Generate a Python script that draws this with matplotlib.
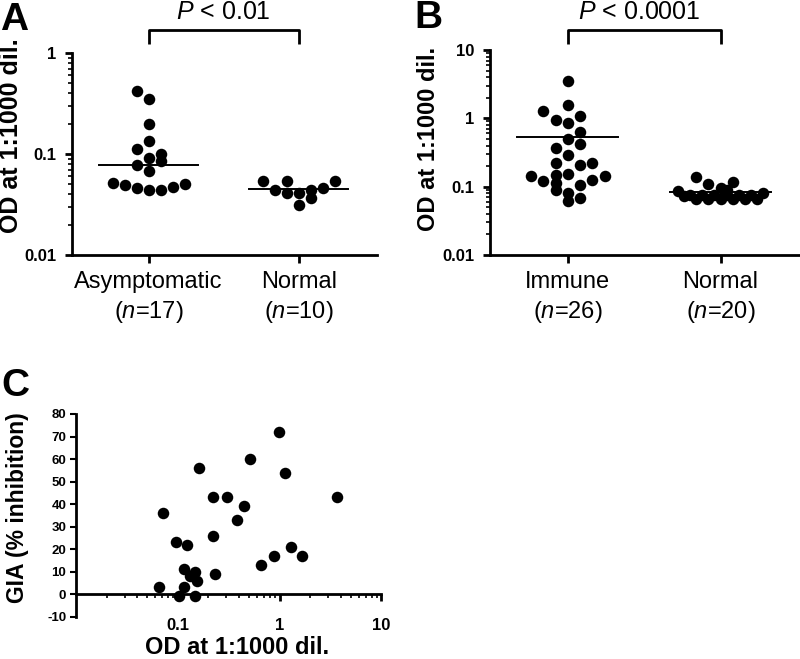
import numpy as np
import matplotlib.pyplot as plt
from matplotlib.transforms import blended_transform_factory
from matplotlib.ticker import LogLocator, NullFormatter

plt.rcParams['font.family'] = ['Liberation Sans', 'DejaVu Sans']
plt.rcParams['mathtext.fontset'] = 'custom'
plt.rcParams['mathtext.rm'] = 'Liberation Sans'
plt.rcParams['mathtext.it'] = 'Liberation Sans:italic'
plt.rcParams['mathtext.bf'] = 'Liberation Sans:bold'

# ---- panel A data ----
a_groups = ['Asymptomatic', 'Normal']
a_counts = [17, 10]
a_asym = [0.42, 0.353, 0.197, 0.135, 0.113, 0.100, 0.0906, 0.086, 0.078, 0.068,
          0.0513, 0.049, 0.046, 0.044, 0.044, 0.047, 0.050]
a_norm = [0.0544, 0.0544, 0.0544, 0.044, 0.0408, 0.0408, 0.044, 0.0457, 0.0367, 0.031]
a_center = [0.078, 0.045]
a_ptext = '$\\it{P}$ < 0.01'

# ---- panel B data ----
b_groups = ['Immune', 'Normal']
b_counts = [26, 20]
b_immune = [3.48, 1.58, 1.27, 1.09, 0.956, 0.845, 0.638, 0.504, 0.421, 0.368,
            0.294, 0.219, 0.222, 0.21, 0.155, 0.15, 0.143, 0.143, 0.12, 0.112,
            0.125, 0.107, 0.0904, 0.0798, 0.0675, 0.061]
b_norm = [0.14, 0.108, 0.0967, 0.118, 0.089,
          0.0865, 0.072, 0.0756, 0.066, 0.0756, 0.066, 0.0756, 0.066,
          0.0756, 0.066, 0.0756, 0.066, 0.0756, 0.066, 0.081]
b_center = [0.527, 0.0826]
b_ptext = '$\\it{P}$ < 0.0001'

# ---- panel C data ----
c_od = [0.0657, 0.0719, 0.0955, 0.103, 0.116, 0.116, 0.124, 0.133, 0.149, 0.149,
        0.156, 0.163, 0.221, 0.221, 0.232, 0.306, 0.38, 0.442, 0.509, 0.652,
        0.874, 0.977, 1.14, 1.3, 1.65, 3.63]
c_gia = [3, 36, 23, -1, 11, 3, 22, 8, 10, -1, 6, 56, 43, 26, 9, 43, 33, 39, 60, 13,
         17, 72, 54, 21, 17, 43]

# swarm layout: column offsets in half-dot steps
a_asym_slot = [-2, 0, 0, 0, -2, 2, 0, 2, -2, 0, -6, -4, -2, 0, 2, 4, 6]
a_norm_slot = [-6, -2, 6, -4, -2, 0, 2, 4, 2, 0]
b_immune_slot = [0, 0, -4, 2, -2, 0, 2, 0, 2, -2, 0, -2, 4, 2, 0, -2, -6, 6, -4, -2,
                 4, 2, -2, 0, 2, 0]
b_norm_slot = [-4, -2, 0, 2, 1, -7, -6, -5, -4, -3, -2, -1, 0, 1, 2, 3, 4, 5, 6, 7]
half_step = 0.04

W, H = 800, 659


def fx(px):
    return px / W


def fy(py):
    return 1 - py / H


def dot_panel(ax, groups, counts, series, slots, centers, ptext, ylim, yticks,
              ylabels, ax_top_px, ax_bot_px, ptext_x):
    for i, (vals, sl) in enumerate(zip(series, slots)):
        xs = i + half_step * np.array(sl)
        ax.plot(xs, vals, 'o', color='black', ms=8.3, mew=0, clip_on=False, zorder=3)
        ax.plot([i - 0.33, i + 0.33], [centers[i], centers[i]], color='black',
                lw=1.4, zorder=4)
    ax.set_yscale('log')
    ax.set_ylim(*ylim)
    ax.set_xlim(-0.51, 1.52)
    for s in ['top', 'right']:
        ax.spines[s].set_visible(False)
    for s in ['left', 'bottom']:
        ax.spines[s].set_linewidth(2)
    ax.set_yticks(yticks)
    ax.set_yticklabels(ylabels, fontweight='bold', fontsize=12)
    ax.yaxis.set_minor_locator(LogLocator(base=10, subs=np.arange(2, 10)))
    ax.yaxis.set_minor_formatter(NullFormatter())
    ax.tick_params(axis='y', which='major', length=5, width=2, pad=6)
    ax.tick_params(axis='y', which='minor', length=3, width=1.2)
    ax.set_xticks([0, 1])
    ax.set_xticklabels(['', ''])
    ax.tick_params(axis='x', length=6, width=2)

    h = ax_bot_px - ax_top_px
    tr = blended_transform_factory(ax.transData, ax.transAxes)
    for i, (g, n) in enumerate(zip(groups, counts)):
        ax.text(i, (ax_bot_px - 288) / h, g, transform=tr, ha='center',
                va='baseline', fontsize=17)
        ax.text(i, (ax_bot_px - 318) / h, '($\\it{n}$=%d)' % n, transform=tr,
                ha='center', va='baseline', fontsize=17)
    y_bar = (ax_bot_px - 30) / h
    y_leg = (ax_bot_px - 44) / h
    ax.plot([0, 0, 1, 1], [y_leg, y_bar, y_bar, y_leg], color='black', lw=2,
            transform=tr, clip_on=False, solid_capstyle='butt')
    ax.text(ptext_x, (ax_bot_px - 19.3) / h, ptext, transform=tr, ha='center',
            va='baseline', fontsize=18)


fig = plt.figure(figsize=(8, 6.59), dpi=100)

axA = fig.add_axes([fx(72), fy(255), fx(377) - fx(72), fy(53) - fy(255)])
dot_panel(axA, a_groups, a_counts, [a_asym, a_norm], [a_asym_slot, a_norm_slot],
          a_center, a_ptext, (0.01, 1), [0.01, 0.1, 1], ['0.01', '0.1', '1'],
          53, 255, 0.5)

axB = fig.add_axes([fx(490), fy(255), fx(800) - fx(490), fy(50) - fy(255)])
dot_panel(axB, b_groups, b_counts, [b_immune, b_norm], [b_immune_slot, b_norm_slot],
          b_center, b_ptext, (0.01, 10), [0.01, 0.1, 1, 10],
          ['0.01', '0.1', '1', '10'], 50, 255, 0.47)

# panel C
axC = fig.add_axes([fx(76), fy(616.7), fx(381.5) - fx(76), fy(414) - fy(616.7)])
axC.plot(c_od, c_gia, 'o', color='black', ms=8.3, mew=0, clip_on=False, zorder=3)
axC.set_xscale('log')
axC.set_xlim(0.01, 10)
axC.set_ylim(-10, 80)
axC.spines['top'].set_visible(False)
axC.spines['right'].set_visible(False)
axC.spines['bottom'].set_position(('data', 0))
axC.spines['bottom'].set_linewidth(2)
axC.spines['left'].set_linewidth(2)
axC.set_xticks([0.1, 1, 10])
axC.set_xticklabels(['0.1', '1', '10'], fontweight='bold', fontsize=12)
axC.xaxis.set_minor_locator(LogLocator(base=10, subs=np.arange(2, 10)))
axC.xaxis.set_minor_formatter(NullFormatter())
axC.tick_params(axis='x', which='major', length=5, width=2, pad=12)
axC.tick_params(axis='x', which='minor', length=3, width=1.2)
axC.set_yticks(np.arange(-10, 81, 10))
axC.set_yticklabels([str(v) for v in range(-10, 81, 10)], fontweight='bold',
                    fontsize=9.5)
axC.tick_params(axis='y', length=4, width=1.5, pad=3)

# axis titles
fig.text(fx(18.5), fy(136), 'OD at 1:1000 dil.', rotation=90, rotation_mode='anchor',
         ha='center', va='baseline', fontsize=18, fontweight='bold')
fig.text(fx(435), fy(139), 'OD at 1:1000 dil.', rotation=90, rotation_mode='anchor',
         ha='center', va='baseline', fontsize=17, fontweight='bold')
fig.text(fx(24), fy(508), 'GIA (% inhibition)', rotation=90, rotation_mode='anchor',
         ha='center', va='baseline', fontsize=16.5, fontweight='bold')
fig.text(fx(236.7), fy(654), 'OD at 1:1000 dil.', ha='center', va='baseline',
         fontsize=17, fontweight='bold')

# panel letters
fig.text(fx(0), fy(30), 'A', ha='left', va='baseline', fontsize=28, fontweight='bold')
fig.text(fx(414), fy(28), 'B', ha='left', va='baseline', fontsize=28, fontweight='bold')
fig.text(fx(1), fy(396), 'C', ha='left', va='baseline', fontsize=28, fontweight='bold')

fig.savefig('out.png', dpi=100)
